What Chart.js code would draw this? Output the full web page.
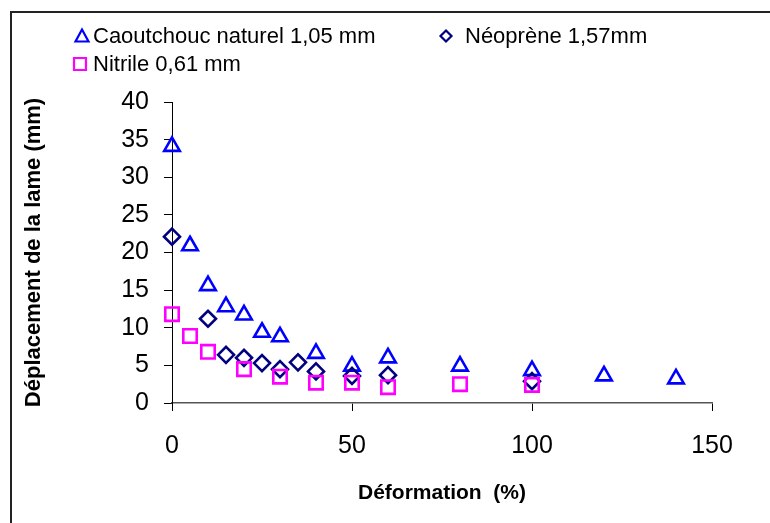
<!DOCTYPE html>
<html>
<head>
<meta charset="utf-8">
<script src="https://cdn.jsdelivr.net/npm/chart.js"></script>
<style>
  html, body { margin: 0; padding: 0; background: #fff; overflow: hidden; }
  #wrap { position: relative; width: 770px; height: 523px; }
  #frame { position: absolute; left: 10px; top: 11px; width: 800px; height: 600px;
           border-top: 2px solid #222; border-left: 2px solid #222; }
  #myChart { position: absolute; left: 0; top: 0; }
</style>
</head>
<body>
<div id="wrap">
  <div id="frame"></div>
  <canvas id="myChart" width="770" height="523"></canvas>
</div>
<script>
// data
var xCaout = [0, 5, 10, 15, 20, 25, 30, 40, 50, 60, 80, 100, 120, 140];
var yCaout = [34.1, 20.9, 15.6, 12.8, 11.7, 9.4, 8.8, 6.6, 4.9, 6.0, 4.9, 4.3, 3.6, 3.2];
var xNeo = [0, 10, 15, 20, 25, 30, 35, 40, 50, 60, 100];
var yNeo = [22.1, 11.2, 6.4, 6.0, 5.3, 4.5, 5.4, 4.2, 3.6, 3.7, 2.9];
var xNit = [0, 5, 10, 20, 30, 40, 50, 60, 80, 100];
var yNit = [11.8, 8.9, 6.8, 4.5, 3.5, 2.7, 2.7, 2.1, 2.5, 2.4];
var seriesNames = ["Caoutchouc naturel 1,05 mm", "Néoprène 1,57mm", "Nitrile 0,61 mm"];

var FONT = 'Arial, "Liberation Sans", sans-serif';

function pts(xs, ys){
  return xs.map(function(x, i){ return {x: x, y: ys[i]}; });
}

// legend drawn by hand, Excel style (two items on first row)
var legendSpots = [
  {mx: 82, my: 36, tx: 93},
  {mx: 446, my: 36, tx: 465},
  {mx: 80, my: 64, tx: 93}
];
var excelLegend = {
  id: 'excelLegend',
  afterDraw: function(chart){
    var c = chart.ctx;
    chart.data.datasets.forEach(function(ds, i){
      var s = legendSpots[i];
      c.save();
      c.strokeStyle = ds.borderColor;
      c.lineWidth = 2.2;
      c.beginPath();
      if (ds.pointStyle === 'triangle') {
        c.moveTo(s.mx, s.my - 6.5);
        c.lineTo(s.mx + 6.5, s.my + 5.5);
        c.lineTo(s.mx - 6.5, s.my + 5.5);
        c.closePath();
      } else if (ds.pointStyle === 'rectRot') {
        c.moveTo(s.mx, s.my - 5.5);
        c.lineTo(s.mx + 5.5, s.my);
        c.lineTo(s.mx, s.my + 5.5);
        c.lineTo(s.mx - 5.5, s.my);
        c.closePath();
      } else {
        c.rect(s.mx - 6, s.my - 6, 12, 12);
      }
      c.stroke();
      c.fillStyle = '#000';
      c.font = '22px ' + FONT;
      c.textBaseline = 'middle';
      c.fillText(ds.label, s.tx, s.my + 1);
      c.restore();
    });
  }
};

var ctx = document.getElementById("myChart");
var myChart = new Chart(ctx, {
  type: 'scatter',
  data: {
    datasets: [{
      label: seriesNames[0],
      data: pts(xCaout, yCaout),
      pointStyle: 'triangle',
      radius: 9,
      borderColor: '#0000FF',
      backgroundColor: 'rgba(0,0,0,0)',
      pointBorderWidth: 2.6,
      clip: false,
      order: 3
    }, {
      label: seriesNames[1],
      data: pts(xNeo, yNeo),
      pointStyle: 'rectRot',
      radius: 8,
      borderColor: '#000080',
      backgroundColor: 'rgba(0,0,0,0)',
      pointBorderWidth: 2.6,
      clip: false,
      order: 2
    }, {
      label: seriesNames[2],
      data: pts(xNit, yNit),
      pointStyle: 'rect',
      radius: 9.5,
      borderColor: '#FF00FF',
      backgroundColor: 'rgba(0,0,0,0)',
      pointBorderWidth: 2.6,
      clip: false,
      order: 1
    }]
  },
  options: {
    responsive: false,
    animation: false,
    devicePixelRatio: 1,
    layout: { padding: { left: 13, right: 58, top: 102, bottom: 0 } },
    plugins: {
      legend: { display: false },
      tooltip: { enabled: false }
    },
    scales: {
      x: {
        type: 'linear',
        min: 0, max: 150,
        ticks: { stepSize: 50, color: '#000', font: { family: FONT, size: 25 }, padding: 20, maxRotation: 0 },
        grid: { drawOnChartArea: false, tickLength: 8, color: '#000' },
        border: { color: '#555', width: 1.5 },
        title: { display: true, text: 'Déformation  (%)', color: '#000',
                 font: { family: FONT, size: 21, weight: 'bold' }, padding: { top: 0, bottom: 17 } },
        afterFit: function(scale){ scale.height = 120; }
      },
      y: {
        min: 0, max: 40,
        ticks: { stepSize: 5, color: '#000', font: { family: FONT, size: 25 }, padding: 15 },
        grid: { drawOnChartArea: false, tickLength: 8, color: '#000' },
        border: { color: '#000', width: 1 },
        title: { display: true, text: 'Déplacement de la lame (mm)', color: '#000',
                 font: { family: FONT, size: 22, weight: 'bold' }, padding: { top: 8, bottom: 0 } },
        afterFit: function(scale){ scale.width = 159; }
      }
    }
  },
  plugins: [excelLegend]
});
</script>
</body>
</html>
